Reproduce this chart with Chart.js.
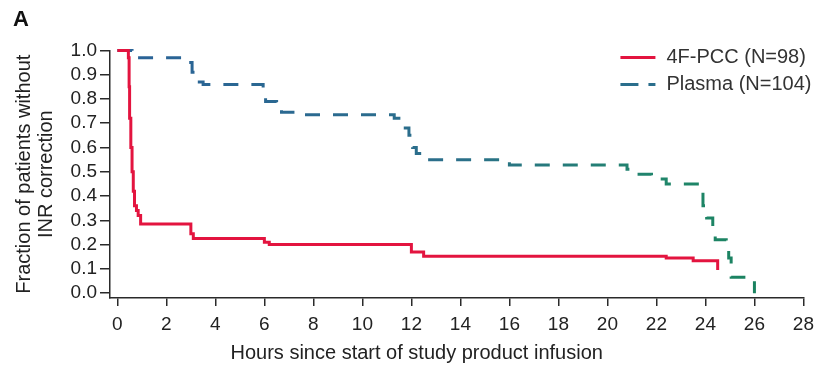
<!DOCTYPE html>
<html lang="en">
<head>
<meta charset="UTF-8">
<title>Fraction of patients without INR correction</title>
<script src="https://cdn.jsdelivr.net/npm/chart.js@4.4.1/dist/chart.umd.min.js"></script>
<style>
  body { margin: 0; background: #fff; }
  #wrap { width: 821px; height: 368px; }
</style>
</head>
<body>
<div id="wrap"><canvas id="km" width="821" height="368"></canvas></div>
<script>
// Kaplan-Meier curves (time in hours, fraction remaining)
const pccTimes = [0, 0.45, 0.48, 0.5, 0.55, 0.6, 0.65, 0.7, 0.78, 0.85, 0.95, 3.0, 3.1, 6.0, 6.2, 12.0, 12.5, 22.4, 23.5, 24.5];
const pccSurv  = [1.0, 0.97, 0.85, 0.72, 0.6, 0.5, 0.42, 0.36, 0.34, 0.32, 0.285, 0.245, 0.225, 0.21, 0.2, 0.17, 0.152, 0.145, 0.133, 0.095];

const plasmaTimes = [0, 0.6, 2.65, 3.05, 3.15, 3.5, 5.95, 6.05, 6.5, 6.7, 7.5, 11.3, 11.6, 11.75, 11.9, 12.05, 12.2, 12.5, 16.0, 20.8, 21.0, 21.8, 22.4, 23.8, 23.9, 24.05, 24.3, 24.4, 24.85, 24.95, 25.05, 26.0];
const plasmaSurv  = [1.0, 0.97, 0.95, 0.91, 0.87, 0.86, 0.83, 0.79, 0.755, 0.745, 0.735, 0.72, 0.69, 0.68, 0.65, 0.6, 0.575, 0.55, 0.528, 0.51, 0.49, 0.47, 0.45, 0.42, 0.36, 0.31, 0.25, 0.22, 0.18, 0.145, 0.065, 0.0];

const seriesLabels = ['4F-PCC (N=98)', 'Plasma (N=104)'];
const xTicks = [0, 2, 4, 6, 8, 10, 12, 14, 16, 18, 20, 22, 24, 26, 28];
const yTicks = [0, 0.1, 0.2, 0.3, 0.4, 0.5, 0.6, 0.7, 0.8, 0.9, 1.0];

const RED = '#e3143f';
const TEAL = '#2a6e8c';
const AXIS = '#2a2a2a';
const FONT = "'Liberation Sans', Arial, Helvetica, sans-serif";

function toPoints(ts, ys) {
    return ts.map((t, i) => ({ x: t, y: ys[i] }));
}

// blue -> green fade along the plasma curve
function plasmaColor(ctx) {
    const area = ctx.chart.chartArea;
    if (!area) return TEAL;
    const g = ctx.chart.ctx.createLinearGradient(area.left, 0, area.right, 0);
    g.addColorStop(0, '#2a6298');
    g.addColorStop(0.5, '#2b6f8a');
    g.addColorStop(0.8, '#20866a');
    g.addColorStop(1, '#17805a');
    return g;
}

// legend drawn inside the plot, top right
const innerLegend = {
    id: 'innerLegend',
    afterDraw(chart) {
        const c = chart.ctx;
        const area = chart.chartArea;
        const x0 = area.right - 183;
        const rows = [area.top + 7, area.top + 34];
        c.save();
        c.font = '20px ' + FONT;
        c.textBaseline = 'middle';
        c.fillStyle = '#333';
        chart.data.datasets.forEach((ds, i) => {
            const y = rows[i];
            c.beginPath();
            c.lineWidth = 3;
            c.strokeStyle = i === 0 ? RED : TEAL;
            c.setLineDash(i === 0 ? [] : [18, 10]);
            c.moveTo(x0, y);
            c.lineTo(x0 + 35, y);
            c.stroke();
            c.setLineDash([]);
            c.fillText(ds.label, x0 + 46, y);
        });
        c.restore();
    }
};

new Chart(document.getElementById('km'), {
    type: 'line',
    data: {
        datasets: [
            {
                label: seriesLabels[0],
                data: toPoints(pccTimes, pccSurv),
                borderColor: RED,
                borderWidth: 3,
                stepped: true,
                pointRadius: 0,
                fill: false,
                clip: 6
            },
            {
                label: seriesLabels[1],
                data: toPoints(plasmaTimes, plasmaSurv),
                borderColor: plasmaColor,
                borderWidth: 3,
                borderDash: [15, 13],
                stepped: true,
                pointRadius: 0,
                fill: false,
                clip: 6
            }
        ]
    },
    options: {
        responsive: false,
        animation: false,
        layout: { padding: { left: 13, right: 11, top: 0, bottom: 0 } },
        plugins: {
            legend: { display: false },
            tooltip: { enabled: false },
            title: {
                display: true,
                text: 'A',
                align: 'start',
                color: '#111',
                font: { family: FONT, size: 22, weight: 'bold' },
                padding: { top: 7, bottom: 17 }
            }
        },
        scales: {
            x: {
                type: 'linear',
                min: -0.3,
                max: 28,
                afterBuildTicks(scale) { scale.ticks = xTicks.map(v => ({ value: v })); },
                afterFit(scale) { scale.height = 70; },
                ticks: {
                    color: '#222',
                    padding: 7,
                    maxRotation: 0,
                    autoSkip: false,
                    font: { family: FONT, size: 19 },
                    callback: v => String(v)
                },
                grid: { drawOnChartArea: false, tickLength: 8, color: AXIS, lineWidth: 1.5 },
                border: { color: AXIS, width: 1.5 },
                title: {
                    display: true,
                    text: 'Hours since start of study product infusion\u2003\u2003\u2003\u2003',
                    color: '#222',
                    font: { family: FONT, size: 20 },
                    padding: { top: 0, bottom: 3 }
                }
            },
            y: {
                min: -0.02,
                max: 1.0,
                afterBuildTicks(scale) { scale.ticks = yTicks.map(v => ({ value: v })); },
                afterFit(scale) { scale.width = 97; },
                ticks: {
                    color: '#222',
                    padding: 3,
                    autoSkip: false,
                    font: { family: FONT, size: 19 },
                    callback: v => Number(v).toFixed(1)
                },
                grid: { drawOnChartArea: false, tickLength: 10, color: AXIS, lineWidth: 1.5 },
                border: { color: AXIS, width: 1.5 },
                title: {
                    display: true,
                    text: ['Fraction of patients without', 'INR correction'],
                    color: '#222',
                    font: { family: FONT, size: 20, lineHeight: 1.1 },
                    padding: { top: 0, bottom: 0 }
                }
            }
        }
    },
    plugins: [innerLegend]
});
</script>
</body>
</html>
